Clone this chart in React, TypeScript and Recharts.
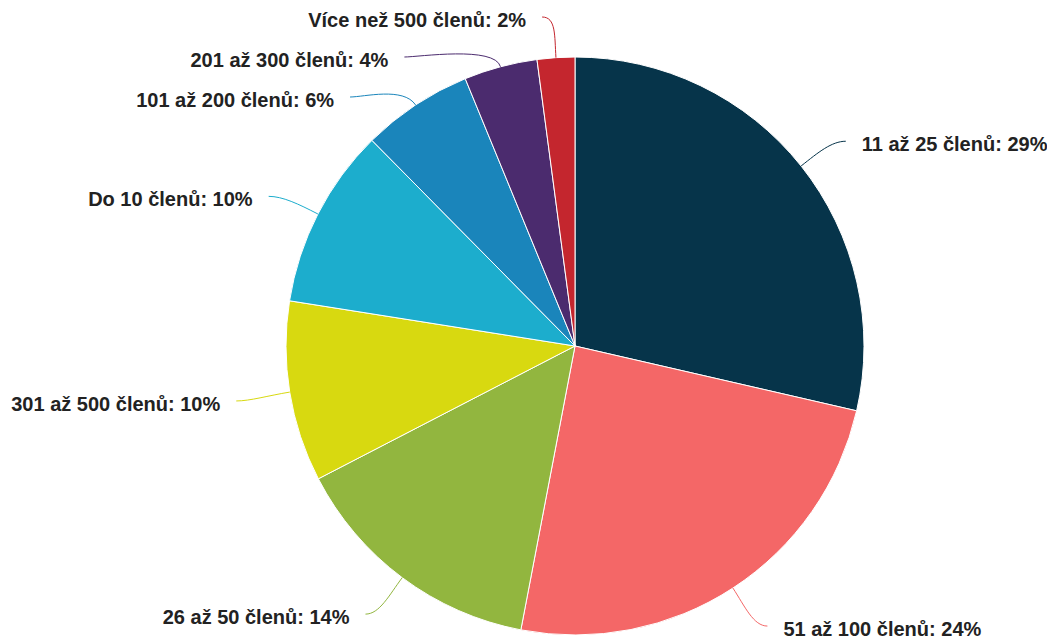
import { PieChart, Pie, Cell } from 'recharts'

const categories = [
  '11 až 25 členů',
  '51 až 100 členů',
  '26 až 50 členů',
  '301 až 500 členů',
  'Do 10 členů',
  '101 až 200 členů',
  '201 až 300 členů',
  'Více než 500 členů',
]
const shares = [28.6, 24.4, 14.4, 10.1, 10.1, 6.2, 4.1, 2.1]
const colors = ['#06344a', '#f46767', '#92b63f', '#d8d910', '#1cadcd', '#1a85bb', '#4b2b6e', '#c4262e']

const W = 1047
const H = 639
const CX = 575
const CY = 346
const R = 289
const LABEL_R = 332
const SPACING = 40

const data = categories.map((name, i) => ({ name, value: shares[i] }))

// label positions, crowded ones pushed down and slid along the circle
type LabelPos = { x: number; y: number; right: boolean; theta: number; pad: number }
const computeLabels = (): LabelPos[] => {
  const total = shares.reduce((a, b) => a + b, 0)
  let acc = 0
  const out: LabelPos[] = shares.map((v) => {
    const theta = ((acc + v / 2) / total) * 2 * Math.PI // clockwise from top
    acc += v
    const right = Math.sin(theta) >= 0
    return {
      x: CX + LABEL_R * Math.sin(theta),
      y: CY - LABEL_R * Math.cos(theta) + 5,
      right,
      theta,
      pad: 27,
    }
  })
  for (const side of [true, false]) {
    const idx = out.map((_, i) => i).filter((i) => out[i].right === side)
    idx.sort((a, b) => out[a].y - out[b].y)
    let prev = -Infinity
    idx.forEach((i) => {
      const p = out[i]
      let y = Math.max(p.y, 20)
      if (y < prev + SPACING) y = prev + SPACING
      if (y - p.y > 6) {
        const dy = y - CY
        const dx = Math.sqrt(Math.max(0, LABEL_R * LABEL_R - dy * dy))
        p.x = side ? CX + dx : CX - dx
        p.pad = 18
      }
      p.y = y
      prev = y
    })
  }
  return out
}
const labelPos = computeLabels()

const renderLabel = (props: any) => {
  const { index, percent } = props
  const p = labelPos[index]
  const sx = CX + R * Math.sin(p.theta)
  const sy = CY - R * Math.cos(p.theta)
  const tx = p.right ? p.x + p.pad : p.x - p.pad
  const ex = p.right ? tx - 16 : tx + 16
  const ey = p.y - 3
  const c1x = CX + (R + 22) * Math.sin(p.theta)
  const c1y = CY - (R + 22) * Math.cos(p.theta)
  const c2x = p.right ? ex - 14 : ex + 14
  return (
    <g>
      <path
        d={`M${sx},${sy} C${c1x},${c1y} ${c2x},${ey} ${ex},${ey}`}
        stroke={colors[index]}
        strokeWidth={1}
        fill="none"
      />
      <text
        x={tx}
        y={p.y}
        dy="0.35em"
        textAnchor={p.right ? 'start' : 'end'}
        fill="#222"
        fontSize={20}
        fontWeight="bold"
        fontFamily="'Liberation Sans', Arial, sans-serif"
      >
        {`${categories[index]}: ${Math.round(percent * 100)}%`}
      </text>
    </g>
  )
}

const App = () => {
  return (
    <div style={{ position: 'absolute', left: 0, top: 0, background: '#fff' }}>
      <PieChart width={W} height={H} margin={{ top: 0, right: 0, bottom: 0, left: 0 }}>
        <Pie
          data={data}
          dataKey="value"
          nameKey="name"
          cx={CX}
          cy={CY}
          outerRadius={R}
          startAngle={90}
          endAngle={-270}
          stroke="#fff"
          strokeWidth={1}
          label={renderLabel}
          labelLine={false}
          isAnimationActive={false}
        >
          {data.map((d, i) => (
            <Cell key={d.name} fill={colors[i]} />
          ))}
        </Pie>
      </PieChart>
    </div>
  )
}

export default App
